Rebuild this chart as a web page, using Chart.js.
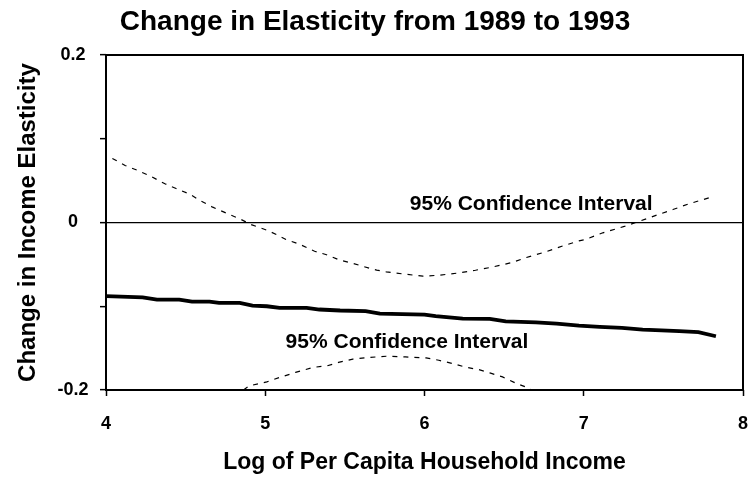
<!DOCTYPE html>
<html>
<head>
<meta charset="utf-8">
<script src="https://cdn.jsdelivr.net/npm/chart.js@4.4.1/dist/chart.umd.min.js"></script>
<style>
  html, body { margin: 0; padding: 0; background: #fff; }
  #wrap { width: 750px; height: 477px; }
</style>
</head>
<body>
<div id="wrap"><canvas id="c" width="750" height="477"></canvas></div>
<script>
// Log of per capita household income (x) and estimated change in elasticity
const incomeLog = [4.00, 4.23, 4.32, 4.46, 4.54, 4.65, 4.71, 4.84, 4.92, 5.01, 5.09, 5.26, 5.34, 5.47, 5.63, 5.72,
  6.00, 6.07, 6.24, 6.41, 6.51, 6.70, 6.83, 6.97, 7.10, 7.24, 7.37, 7.45, 7.60, 7.72, 7.83];
const elasticityChange = [-0.0878, -0.0893, -0.0920, -0.0920, -0.0944, -0.0944, -0.0960, -0.0960, -0.0992, -0.1000,
  -0.1019, -0.1019, -0.1039, -0.1051, -0.1059, -0.1087, -0.1099, -0.1119, -0.1147, -0.1151, -0.1180, -0.1192,
  -0.1207, -0.1231, -0.1247, -0.1259, -0.1278, -0.1286, -0.1298, -0.1310, -0.1358];

// Upper bound of the 95% confidence interval
const upperX = [4.04, 4.12, 4.20, 4.28, 4.37, 4.44, 4.53, 4.59, 4.67, 4.76, 4.84, 4.91, 5.01, 5.07, 5.13, 5.22,
  5.31, 5.38, 5.47, 5.54, 5.61, 5.70, 5.76, 5.86, 5.99, 6.09, 6.20, 6.32, 6.41, 6.55, 6.64, 6.76, 6.87, 6.97,
  7.01, 7.12, 7.26, 7.35, 7.47, 7.56, 7.66, 7.82];
const upperY = [0.0765, 0.0681, 0.0621, 0.0553, 0.0462, 0.0406, 0.0335, 0.0263, 0.0183, 0.0108, 0.0044, -0.0024,
  -0.0092, -0.0143, -0.0203, -0.0263, -0.0343, -0.0382, -0.0450, -0.0482, -0.0522, -0.0569, -0.0589, -0.0613,
  -0.0641, -0.0630, -0.0606, -0.0570, -0.0538, -0.0478, -0.0418, -0.0351, -0.0279, -0.0219, -0.0203, -0.0123,
  -0.0044, 0.0016, 0.0096, 0.0155, 0.0223, 0.0314];

// Lower bound of the 95% confidence interval
const lowerX = [4.75, 4.90, 5.01, 5.09, 5.19, 5.30, 5.39, 5.46, 5.55, 5.65, 5.76, 5.88, 6.01, 6.09, 6.18, 6.26,
  6.34, 6.41, 6.49, 6.57, 6.65, 6.72];
const lowerY = [-0.2150, -0.1950, -0.1903, -0.1850, -0.1790, -0.1730, -0.1711, -0.1671, -0.1631, -0.1611, -0.1597,
  -0.1605, -0.1617, -0.1645, -0.1685, -0.1729, -0.1756, -0.1796, -0.1844, -0.1915, -0.1975, -0.2050];

// Axis ticks
const xTicks = [4, 5, 6, 7, 8];
const yTickValues = [-0.2, -0.1, 0, 0.1, 0.2];
const yTickLabels = ['-0.2', '', '0', '', '0.2'];

// Interval captions
const ciCaption = '95% Confidence Interval';
const captionAnchors = [[6.67, 0.0215], [5.89, -0.1434]];

const FONT = '"Liberation Sans", Arial, Helvetica, sans-serif';
const toPoints = (xs, ys) => xs.map((x, i) => ({ x: x, y: ys[i] }));

const frameAndCaptions = {
  id: 'frameAndCaptions',
  afterDraw(chart) {
    const { ctx, chartArea: a, scales } = chart;
    ctx.save();
    ctx.strokeStyle = '#000';
    ctx.lineWidth = 2;
    ctx.strokeRect(a.left, a.top, a.right - a.left, a.bottom - a.top);
    ctx.fillStyle = '#000';
    ctx.font = 'bold 21px ' + FONT;
    ctx.textAlign = 'center';
    ctx.textBaseline = 'middle';
    captionAnchors.forEach(([x, y]) => {
      ctx.fillText(ciCaption, scales.x.getPixelForValue(x), scales.y.getPixelForValue(y));
    });
    ctx.restore();
  }
};

new Chart(document.getElementById('c'), {
  type: 'line',
  data: {
    datasets: [
      {
        data: toPoints(incomeLog, elasticityChange),
        borderColor: '#000', borderWidth: 3.8, pointRadius: 0, tension: 0
      },
      {
        data: toPoints(upperX, upperY),
        borderColor: '#000', borderWidth: 1.2, borderDash: [5, 6], pointRadius: 0, tension: 0
      },
      {
        data: toPoints(lowerX, lowerY),
        borderColor: '#000', borderWidth: 1.2, borderDash: [5, 6], pointRadius: 0, tension: 0
      }
    ]
  },
  options: {
    responsive: false,
    animation: false,
    events: [],
    layout: { padding: 0 },
    plugins: {
      legend: { display: false },
      tooltip: { enabled: false },
      title: {
        display: true,
        text: 'Change in Elasticity from 1989 to 1993',
        color: '#000',
        font: { family: FONT, size: 28, weight: 'bold' },
        padding: { top: 5.7, bottom: 15.7 }
      }
    },
    scales: {
      x: {
        type: 'linear',
        min: 4, max: 8,
        afterFit(scale) {
          scale.height = 87;
          scale.paddingLeft = 0;
          scale.paddingRight = 7;
        },
        afterBuildTicks(scale) { scale.ticks = xTicks.map(v => ({ value: v })); },
        ticks: {
          color: '#000',
          padding: 4,
          font: { family: FONT, size: 18, weight: 'bold', lineHeight: 2.72 },
          callback: v => String(v)
        },
        grid: { drawOnChartArea: false, drawTicks: true, tickLength: 6, tickColor: '#000', tickWidth: 1.5 },
        border: { display: false },
        title: {
          display: true,
          text: 'Log of Per Capita Household Income',
          color: '#000',
          font: { family: FONT, size: 23, weight: 'bold' },
          padding: { top: 0, bottom: 1 }
        }
      },
      y: {
        min: -0.2, max: 0.2,
        afterFit(scale) { scale.width = 106; },
        afterBuildTicks(scale) { scale.ticks = yTickValues.map(v => ({ value: v })); },
        ticks: {
          color: '#000',
          padding: 11.6,
          crossAlign: 'center',
          font: { family: FONT, size: 18, weight: 'bold' },
          callback: (v, i) => yTickLabels[i]
        },
        grid: {
          drawOnChartArea: true,
          drawTicks: true,
          tickLength: 6,
          tickColor: '#000',
          tickWidth: 1.5,
          lineWidth: 1.3,
          color: c => (c.tick && Math.abs(c.tick.value) < 1e-9) ? '#000' : 'rgba(0,0,0,0)'
        },
        border: { display: false },
        title: {
          display: true,
          text: 'Change in Income Elasticity',
          color: '#000',
          font: { family: FONT, size: 24, weight: 'bold' },
          padding: { top: 13.6, bottom: 0 }
        }
      }
    }
  },
  plugins: [frameAndCaptions]
});
</script>
</body>
</html>
